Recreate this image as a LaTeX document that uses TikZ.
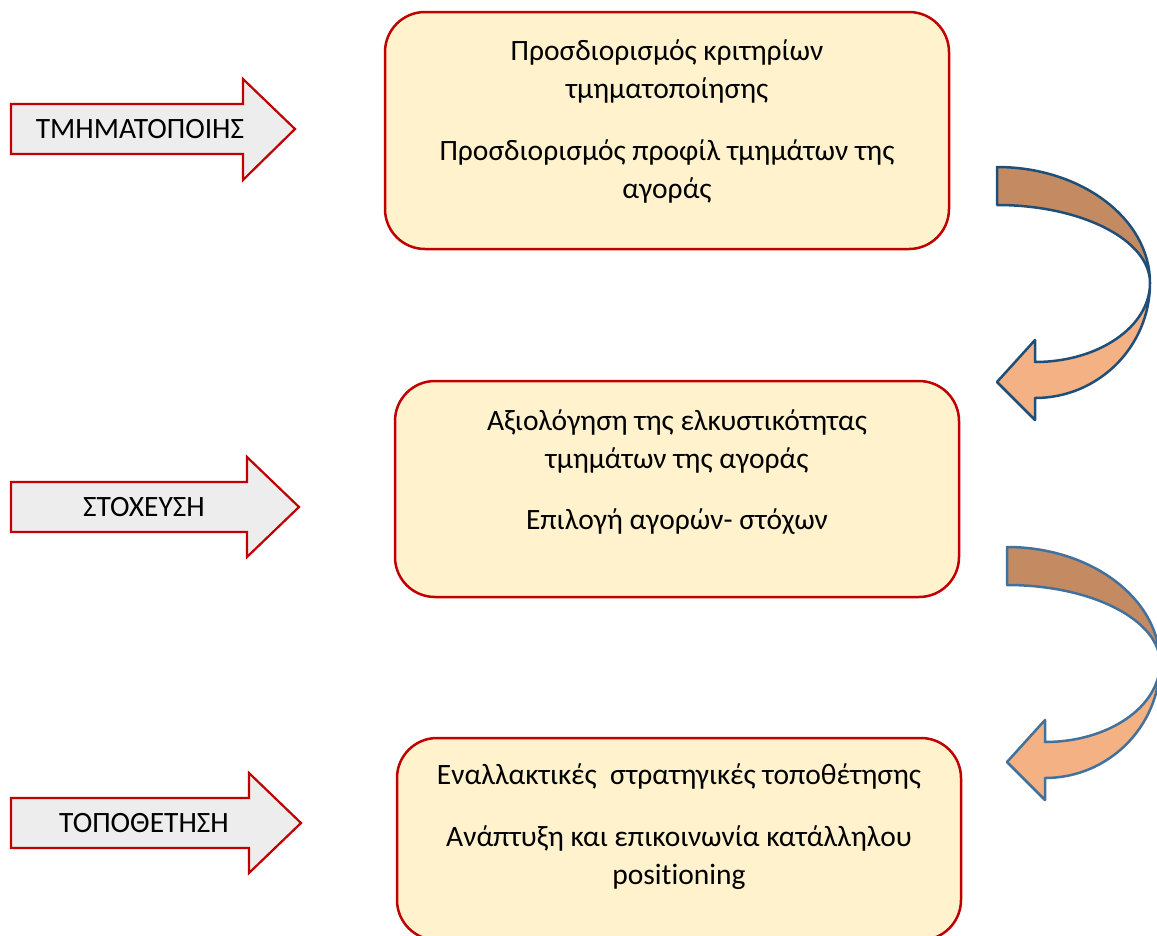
\documentclass[tikz,border=0pt]{standalone}
\usepackage{fontspec}
\setmainfont[Ligatures=NoCommon]{Carlito}
\begin{document}
\definecolor{boxfill}{HTML}{FFF2CC}
\definecolor{boxline}{HTML}{C00000}
\definecolor{arrfill}{HTML}{EDEDED}
\definecolor{bandtop}{HTML}{C48B63}
\definecolor{bandlow}{HTML}{F4B183}
\definecolor{bandlineA}{HTML}{1F4E79}
\definecolor{bandlineB}{HTML}{41719C}
\begin{tikzpicture}[x=1pt,y=-1pt,
  stagebox/.style={draw=boxline, fill=boxfill, line width=2.5pt, rounded corners=40pt,
    minimum width=564pt, inner sep=0pt},
  stagetext/.style={align=center, font=\fontsize{29.5}{38}\selectfont, inner sep=0pt, anchor=base},
  blockarrow/.style={draw=boxline, fill=arrfill, line width=2.2pt, line join=miter},
  arrowlabel/.style={font=\fontsize{29.5}{32}\selectfont, inner sep=0pt},
  band/.style={line width=2.5pt, line join=round}]
\useasboundingbox (0,0) rectangle (1157,935);

% stage boxes
\node[stagebox, minimum height=237pt] (b1) at (667,130.5) {};
\node[stagebox, minimum height=216pt] (b2) at (677,489) {};
\node[stagebox, minimum height=202pt] (b3) at (679,839) {};

% box texts, placed by the baseline of their last line
\node[stagetext] (t1) at (667,198)
  {Προσδιορισμός κριτηρίων\\ τμηματοποίησης\\[24pt] Προσδιορισμός προφίλ τμημάτων της\\ αγοράς};
\node[stagetext] (t2) at (677,529)
  {Αξιολόγηση της ελκυστικότητας\\ τμημάτων της αγοράς\\[23pt] Επιλογή αγορών- στόχων};
\node[stagetext] (t3) at (679,884)
  {Εναλλακτικές\ \ στρατηγικές τοποθέτησης\\[24pt] Ανάπτυξη και επικοινωνία κατάλληλου\\ positioning};

% block arrows on the left
\draw[blockarrow] (11,104) -- (243,104) -- (243,79) -- (295,129) -- (243,180) -- (243,154) -- (11,154) -- cycle;
\draw[blockarrow] (11,482) -- (247,482) -- (247,457) -- (299,507) -- (247,557) -- (247,532) -- (11,532) -- cycle;
\draw[blockarrow] (11,798) -- (249,798) -- (249,773) -- (301,823) -- (249,873) -- (249,848) -- (11,848) -- cycle;

\node[arrowlabel] (l1) at (140,129) {ΤΜΗΜΑΤΟΠΟΙΗΣ};
\node[arrowlabel] (l2) at (144,507) {ΣΤΟΧΕΥΣΗ};
\node[arrowlabel] (l3) at (144,823) {ΤΟΠΟΘΕΤΗΣΗ};

% curved arrows between the stages
\foreach \dx/\dy/\lc in {0/0/bandlineA, 10/380/bandlineB}{
  \begin{scope}[shift={(\dx,\dy)}]
    \draw[band, draw=\lc, fill=bandtop]
      (997,167) arc[start angle=270, end angle=360, x radius=153, y radius=116]
      arc[start angle=0, end angle=-90, x radius=153, y radius=78]
      -- cycle;
    \draw[band, draw=\lc, fill=bandlow]
      (1150,283) arc[start angle=0, end angle=90, x radius=115, y radius=115]
      -- (1035,420) -- (997,382) -- (1035,340) -- (1035,362)
      arc[start angle=90, end angle=0, x radius=115, y radius=79]
      -- cycle;
  \end{scope}
}
\end{tikzpicture}
\end{document}
